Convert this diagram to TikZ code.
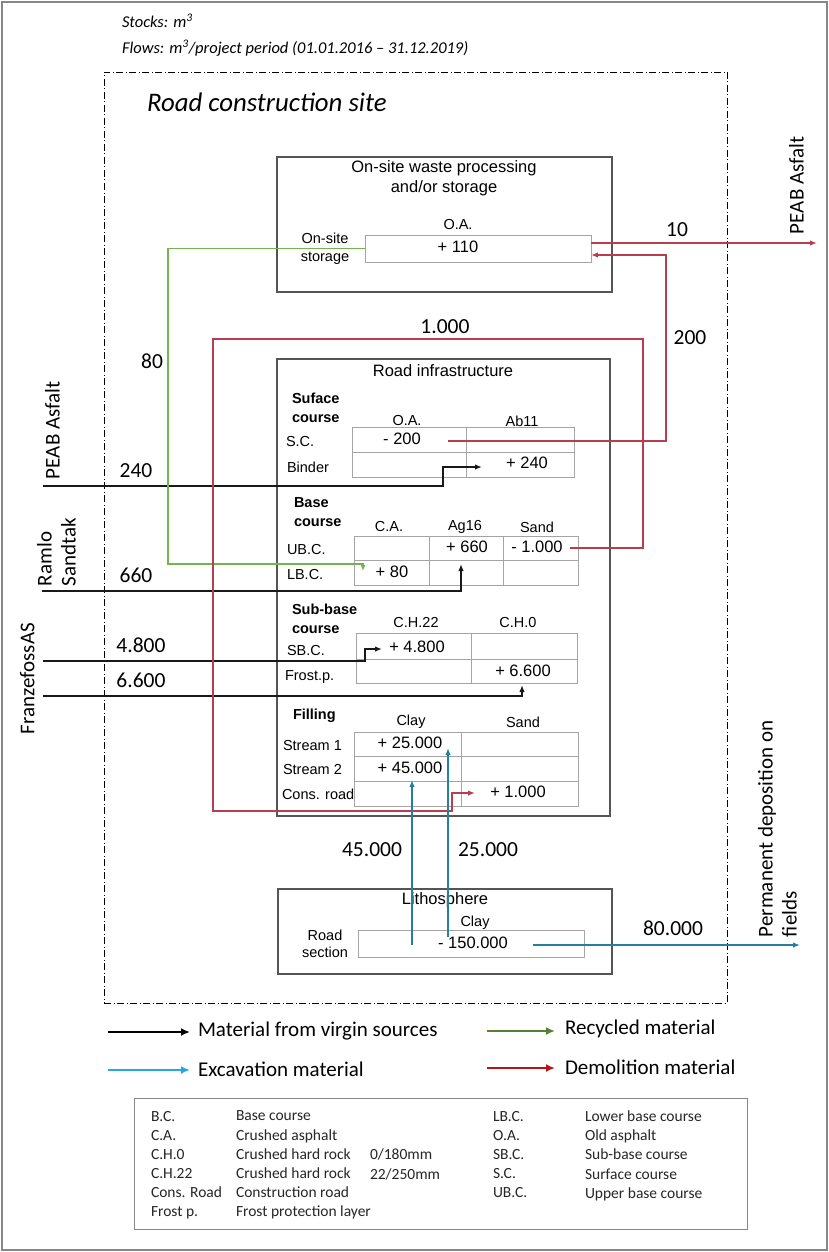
\documentclass[tikz,border=0pt]{standalone}
\usepackage{fontspec}
\setmainfont{Liberation Sans}
\newfontfamily\calfont{Carlito}
\usetikzlibrary{arrows.meta}

\definecolor{fred}{RGB}{182,62,78}
\definecolor{fgreen}{RGB}{118,178,80}
\definecolor{fblue}{RGB}{40,126,160}
\definecolor{lgreen}{RGB}{84,130,53}
\definecolor{lblue}{RGB}{40,168,222}
\definecolor{lred}{RGB}{185,20,25}
\definecolor{boxgray}{RGB}{85,85,85}
\definecolor{tblgray}{RGB}{165,165,165}
\definecolor{framegray}{RGB}{135,135,135}

% rectangle node given by its corners: style, name, x1, y1, x2, y2
\newcommand\rbox[6]{\node[#1, anchor=north west, minimum width={(#5)-(#3)}, minimum height={(#6)-(#4)}] (#2) at (#3,#4) {};}

\begin{document}
\begin{tikzpicture}[x=1pt,y=-1pt,
  every node/.style={inner sep=0pt, outer sep=0pt},
  frame/.style={draw=framegray, line width=1.5pt},
  site/.style={draw=black, line width=0.8pt, dash pattern=on 7pt off 2.5pt on 1pt off 2.5pt},
  box/.style={draw=boxgray, line width=1.2pt},
  cell/.style={draw=tblgray, line width=1pt},
  hd/.style={font=\fontsize{16.5}{20}\selectfont, align=center},
  lb/.style={font=\fontsize{14.5}{17.5}\selectfont, align=center},
  rowlb/.style={font=\fontsize{14.5}{17.5}\selectfont, anchor=west},
  sec/.style={font=\bfseries\fontsize{14.5}{19}\selectfont, align=left, anchor=west},
  val/.style={font=\fontsize{16.5}{19}\selectfont},
  qty/.style={font=\calfont\fontsize{21.5}{24}\selectfont},
  src/.style={font=\calfont\fontsize{21}{24}\selectfont, rotate=90, align=left, anchor=north west},
  hdr/.style={font=\calfont\itshape\fontsize{16.5}{20}\selectfont, anchor=west},
  leg/.style={font=\calfont\fontsize{21}{24}\selectfont, anchor=west},
  gl/.style={font=\calfont\fontsize{15.5}{19.1}\selectfont, align=left, anchor=north west, text=black!85},
  flow/.style={line width=1.5pt, -{Latex[length=7pt,width=5.5pt]}},
  virgin/.style={flow, draw=black!90},
  recyc/.style={flow, draw=fgreen, line width=1.3pt, -{Latex[length=6pt,width=5pt]}},
  excav/.style={flow, draw=fblue},
  demol/.style={flow, draw=fred},
  legarrow/.style={line width=2.4pt, -{Latex[length=9pt,width=8pt]}}
]
\useasboundingbox (0,0) rectangle (829,1252);
\fill[white] (0,0) rectangle (829,1252);
\draw[frame] (2,2) rectangle (827,1250);

% units
\node[hdr] (stocks) at (122,21) {Stocks: m\textsuperscript{3}};
\node[hdr] (flows) at (122,48) {Flows: m\textsuperscript{3}/project period (01.01.2016 – 31.12.2019)};

% system boundary
\rbox{site}{sitebox}{104}{72}{727}{1003}
\node[font=\calfont\itshape\fontsize{26.8}{30}\selectfont, anchor=west] (sitename) at (147,102) {Road construction site};

% ---------- on-site waste processing ----------
\rbox{box}{ows}{277}{157}{612}{292}
\node[hd] (owstitle) at (444,178) {On-site waste processing\\and/or storage};
\node[lb] (owsoa) at (458,225) {O.A.};
\rbox{cell}{osb}{365}{235}{591}{262}
\node[val] (osbval) at (458,247) {+ 110};
\node[lb] (osblab) at (325,249) {On-site\\storage};

% ---------- road infrastructure ----------
\rbox{box}{ri}{277}{359}{610}{816}
\node[hd] (rititle) at (443,371) {Road infrastructure};

% surface course
\node[sec] (secsc) at (292,408) {Suface\\course};
\node[lb] (hsoa) at (407,421) {O.A.};
\node[lb] (hsab) at (522,421) {Ab11};
\rbox{cell}{sOA1}{352}{427}{466}{452}
\rbox{cell}{sAB1}{466}{427}{574}{452}
\rbox{cell}{sOA2}{352}{452}{466}{477}
\rbox{cell}{sAB2}{466}{452}{574}{477}
\node[rowlb] (rsc) at (286,442) {S.C.};
\node[rowlb] (rbind) at (287,467) {Binder};
\node[val] (vsoa) at (402,439) {- 200};
\node[val] (vsab) at (527,463) {+ 240};

% base course
\node[sec] (secbc) at (294,512) {Base\\course};
\node[lb] (hbca) at (389,527) {C.A.};
\node[lb] (hbag) at (465,527) {Ag16};
\node[lb] (hbsa) at (537,527) {Sand};
\rbox{cell}{bCA1}{354}{536}{429}{560}
\rbox{cell}{bAG1}{429}{536}{503}{560}
\rbox{cell}{bSA1}{503}{536}{578}{560}
\rbox{cell}{bCA2}{354}{560}{429}{585}
\rbox{cell}{bAG2}{429}{560}{503}{585}
\rbox{cell}{bSA2}{503}{560}{578}{585}
\node[rowlb] (rubc) at (287,550) {UB.C.};
\node[rowlb] (rlbc) at (287,575) {LB.C.};
\node[val] (vbag) at (467,547) {+ 660};
\node[val] (vbsa) at (537,547) {- 1.000};
\node[val] (vbca) at (392,572) {+ 80};

% sub-base course
\node[sec] (secsb) at (292,619) {Sub-base\\course};
\node[lb] (hch22) at (416,623) {C.H.22};
\node[lb] (hch0) at (518,623) {C.H.0};
\rbox{cell}{sbA1}{356}{633}{471}{659}
\rbox{cell}{sbB1}{471}{633}{577}{659}
\rbox{cell}{sbA2}{356}{659}{471}{683}
\rbox{cell}{sbB2}{471}{659}{577}{683}
\node[rowlb] (rsbc) at (287,651) {SB.C.};
\node[rowlb] (rfrost) at (285,677) {Frost.p.};
\node[val] (vsbA) at (417,647) {+ 4.800};
\node[val] (vsbB) at (523,671) {+ 6.600};

% filling
\node[sec] (secfill) at (293,716) {Filling};
\node[lb] (hfclay) at (411,722) {Clay};
\node[lb] (hfsand) at (523,722) {Sand};
\rbox{cell}{fC1}{354}{732}{461}{756}
\rbox{cell}{fS1}{461}{732}{578}{756}
\rbox{cell}{fC2}{354}{756}{461}{781}
\rbox{cell}{fS2}{461}{756}{578}{781}
\rbox{cell}{fC3}{354}{781}{461}{806}
\rbox{cell}{fS3}{461}{781}{578}{806}
\node[rowlb] (rst1) at (283,746) {Stream 1};
\node[rowlb] (rst2) at (283,770) {Stream 2};
\node[rowlb] (rcons) at (282,794) {Cons. road};
\node[val] (vfc1) at (410,743) {+ 25.000};
\node[val] (vfc2) at (410,768) {+ 45.000};
\node[val] (vfs3) at (518,792) {+ 1.000};

% ---------- lithosphere ----------
\rbox{box}{lith}{278}{889}{612}{974}
\node[hd] (lithtitle) at (445,900) {Lithosphere};
\node[lb] (hlclay) at (475,923) {Clay};
\rbox{cell}{litb}{358}{930}{584}{957}
\node[val] (vlit) at (473,943) {- 150.000};
\node[lb] (litlab) at (325,944) {Road\\section};

% ---------- sources and sinks ----------
\node[src] (peabin) at (45,479) {PEAB Asfalt};
\node[src] (ramlo) at (37,586) {Ramlo\\Sandtak};
\node[src] (franz) at (20,734) {FranzefossAS};
\node[src] (peabout) at (789,234) {PEAB Asfalt};
\node[src] (fields) at (758,937) {Permanent deposition on\\fields};

% ---------- flow end points and bends ----------
\coordinate (s240) at (43,486);   \coordinate (k240) at (443,467);  \coordinate (t240) at (482,467);
\coordinate (s660) at (42,591);   \coordinate (t660) at (461,564);
\coordinate (s4800) at (43,661);  \coordinate (k4800) at (365,649); \coordinate (t4800) at (382,649);
\coordinate (s6600) at (43,696);  \coordinate (t6600) at (522,685);
\coordinate (k80) at (168,564);   \coordinate (t80) at (363,571);
\coordinate (s200) at (448,441);  \coordinate (k200) at (666,255);
\coordinate (t10) at (817,243);
\coordinate (s1000) at (570,548); \coordinate (k1a) at (643,339);
\coordinate (k1b) at (213,811);   \coordinate (k1c) at (452,793);   \coordinate (t1000) at (475,793);
\coordinate (s45) at (412,945);   \coordinate (t45) at (412,780);
\coordinate (s25) at (448,937);   \coordinate (t25) at (448,748);
\coordinate (s80k) at (533,945);  \coordinate (t80k) at (800,945);

% ---------- flows ----------
% virgin material
\draw[virgin] (s240) -| (k240) -- (t240);
\draw[virgin] (s660) -| (t660);
\draw[virgin] (s4800) -| (k4800) -- (t4800);
\draw[virgin] (s6600) -| (t6600);
% recycled asphalt from storage
\draw[recyc] (osb.west) -| (k80) -| (t80);
% demolition flows
\draw[demol] (s200) -| (k200) -- (osb.east |- k200);
\draw[demol] (osb.east |- t10) -- (t10);
\draw[demol] (s1000) -| (k1a) -| (k1b) -| (k1c) -- (t1000);
% excavation
\draw[excav] (s45) -- (t45);
\draw[excav] (s25) -- (t25);
\draw[excav] (s80k) -- (t80k);

% flow quantities
\node[qty] (q10) at (677,230) {10};
\node[qty] (q200) at (690,338) {200};
\node[qty] (q1000) at (445,327) {1.000};
\node[qty] (q80) at (152,361) {80};
\node[qty] (q240) at (136,471) {240};
\node[qty] (q660) at (136,575) {660};
\node[qty] (q4800) at (141,645) {4.800};
\node[qty] (q6600) at (141,680) {6.600};
\node[qty] (q45) at (372,850) {45.000};
\node[qty] (q25) at (488,850) {25.000};
\node[qty] (q80k) at (673,928) {80.000};

% ---------- legend ----------
\node[leg] (l1) at (198,1031) {Material from virgin sources};
\node[leg] (l2) at (565,1029) {Recycled material};
\node[leg] (l3) at (198,1069) {Excavation material};
\node[leg] (l4) at (565,1067) {Demolition material};
\coordinate (a1) at (108,1032); \coordinate (a2) at (487,1031);
\coordinate (a3) at (108,1070); \coordinate (a4) at (487,1068);
\draw[legarrow, draw=black] (a1) -- ([xshift=-8pt]l1.west |- a1);
\draw[legarrow, draw=lgreen] (a2) -- ([xshift=-10pt]l2.west |- a2);
\draw[legarrow, draw=lblue] (a3) -- ([xshift=-8pt]l3.west |- a3);
\draw[legarrow, draw=lred] (a4) -- ([xshift=-10pt]l4.west |- a4);

% ---------- abbreviations ----------
\rbox{draw=framegray, line width=1pt}{gloss}{134}{1098}{747}{1229}
\node[gl] (gab1) at (151,1111) {B.C.\\C.A.\\C.H.0\\C.H.22\\Cons. Road\\Frost p.};
\node[gl] (gde1) at (236,1111) {Base course\\Crushed asphalt\\Crushed hard rock\\Crushed hard rock\\Construction road\\Frost protection layer};
\node[gl] (gsz) at (370,1149.2) {0/180mm\\22/250mm};
\node[gl] (gab2) at (493,1111) {LB.C.\\O.A.\\SB.C.\\S.C.\\UB.C.};
\node[gl] (gde2) at (585,1111) {Lower base course\\Old asphalt\\Sub-base course\\Surface course\\Upper base course};
\end{tikzpicture}
\end{document}
